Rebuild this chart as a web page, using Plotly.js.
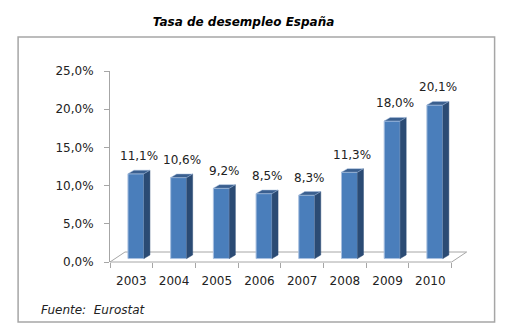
<!DOCTYPE html>
<html>
<head>
<meta charset="utf-8">
<script src="https://cdn.plot.ly/plotly-3.0.1.min.js"></script>
<style>html,body{margin:0;padding:0;background:#fff;}#chart{width:514px;height:330px;}</style>
</head>
<body>
<div id="chart"></div>
<script>
// ---- data ----
const years = ['2003', '2004', '2005', '2006', '2007', '2008', '2009', '2010'];
const rates = [11.1, 10.6, 9.2, 8.5, 8.3, 11.3, 18.0, 20.1];
const yTicks = [0, 5, 10, 15, 20, 25];
const titleText = 'Tasa de desempleo España';
const sourceText = 'Fuente:  Eurostat';

// ---- styling / geometry (pixels -> axis units) ----
const W = 514, H = 330;
const L = 110, T = 71, B = 330 - 262;
const XMIN = -0.5, XMAX = 8.0, YMAX = 25;
const catPx = 42.75;
const plotW = (XMAX - XMIN) * catPx;
const R = W - L - plotW;
const plotH = H - T - B;
const pxX = 1 / catPx, pxY = YMAX / plotH;

const barW = 16 * pxX;          // front face width
const barShift = 4.6 * pxX;     // front face centre offset
const base = 0.45;              // bars stand slightly back on the floor
const dX = 6 * pxX, dY = 3.6 * pxY;      // bar depth
const fX = 15 * pxX, fY = 10 * pxY;      // floor depth

const idx = years.map((_, i) => i);
const fontFam = '"DejaVu Sans", Verdana, sans-serif';
const pct = (v) => v.toFixed(1).replace('.', ',') + '%';

const front = {
  type: 'bar', x: idx, y: rates, base: base,
  width: barW, offset: barShift - barW / 2,
  marker: {color: '#4a7ebb', line: {color: '#a7bfdf', width: 1}},
  hoverinfo: 'skip', showlegend: false
};
// invisible carrier so that the label axis is drawn
const labelCarrier = {
  type: 'scatter', mode: 'markers', x: idx, y: rates, xaxis: 'x2', yaxis: 'y',
  marker: {opacity: 0, size: 1}, hoverinfo: 'skip', showlegend: false
};

const shapes = [];
// floor
const x0f = idx[0] - 0.5, x1f = idx[idx.length - 1] + 0.5;
const floorLine = {color: '#a6a6a6', width: 1};
shapes.push({type: 'line', xref: 'x', yref: 'paper', x0: x0f, x1: x1f, y0: 0, y1: 0, line: floorLine, layer: 'below'});
shapes.push({type: 'line', xref: 'x', yref: 'y', x0: x0f + fX, x1: x1f + fX, y0: fY, y1: fY, line: floorLine, layer: 'below'});
shapes.push({type: 'line', xref: 'x', yref: 'y', x0: x0f, x1: x0f + fX, y0: 0, y1: fY, line: floorLine, layer: 'below'});
shapes.push({type: 'line', xref: 'x', yref: 'paper', x0: x1f, x1: x1f + fX, y0: 0, y1: fY / YMAX, line: floorLine, layer: 'below'});

// 3D faces of each bar
idx.forEach((i) => {
  const v = rates[i];
  const xl = i + barShift - barW / 2, xr = i + barShift + barW / 2;
  const top = v + base;
  shapes.push({
    type: 'path', xref: 'x', yref: 'y', layer: 'above',
    path: `M${xr},${base} L${xr},${top} L${xr + dX},${top + dY} L${xr + dX},${base + dY} Z`,
    fillcolor: '#2b4b74', line: {width: 0.5, color: '#2b4b74'}
  });
  shapes.push({
    type: 'path', xref: 'x', yref: 'y', layer: 'above',
    path: `M${xl},${top} L${xr},${top} L${xr + dX},${top + dY} L${xl + dX},${top + dY} Z`,
    fillcolor: '#3a5f8f', line: {width: 0.5, color: '#a7bfdf'}
  });
});

// outer frame
shapes.push({
  type: 'rect', xref: 'paper', yref: 'paper',
  x0: (18 - L) / plotW, x1: (495 - L) / plotW,
  y0: (H - B - 322) / plotH, y1: (H - B - 37) / plotH,
  line: {color: '#a6a6a6', width: 1.5}, fillcolor: 'rgba(0,0,0,0)', layer: 'below'
});

const annotations = idx.map((i) => ({
  x: i + barShift + dX / 2, y: rates[i] + base + dY, xref: 'x', yref: 'y',
  text: pct(rates[i]),
  showarrow: false, yanchor: 'bottom', yshift: 5,
  font: {family: fontFam, size: 12, color: '#222'}
}));
annotations.push({
  xref: 'paper', yref: 'paper', x: (39 - L) / plotW, y: (H - B - 310) / plotH,
  xanchor: 'left', yanchor: 'middle', text: sourceText, showarrow: false,
  font: {family: fontFam, size: 12, color: '#222', style: 'italic'}
});

const layout = {
  width: W, height: H,
  margin: {l: L, r: R, t: T, b: B, pad: 0},
  paper_bgcolor: '#fff', plot_bgcolor: 'rgba(0,0,0,0)',
  showlegend: false,
  title: {
    text: titleText, xref: 'container', yref: 'container',
    x: 243.5 / W, y: 1 - 21.5 / H, xanchor: 'center', yanchor: 'middle',
    font: {family: fontFam, size: 12, color: '#000', weight: 'bold', style: 'italic'}
  },
  xaxis: {
    range: [XMIN, XMAX], showgrid: false, zeroline: false, showline: false,
    tickmode: 'array', tickvals: idx.map(i => i - 0.5).concat([idx.length - 0.5]),
    ticktext: idx.map(() => '').concat(['']),
    ticks: 'outside', ticklen: 5, tickcolor: '#a6a6a6', fixedrange: true
  },
  xaxis2: {
    range: [XMIN, XMAX], overlaying: 'x', anchor: 'y', side: 'bottom',
    showgrid: false, zeroline: false, showline: false, ticks: '',
    tickmode: 'array', tickvals: idx, ticktext: years, ticklabelstandoff: 10,
    tickfont: {family: fontFam, size: 12, color: '#222'}, fixedrange: true
  },
  yaxis: {
    range: [0, YMAX], showgrid: false, zeroline: false,
    showline: true, linecolor: '#a6a6a6', linewidth: 1,
    ticks: 'outside', ticklen: 5, tickcolor: '#a6a6a6',
    tickmode: 'array', tickvals: yTicks, ticktext: yTicks.map(pct),
    ticklabelstandoff: 8,
    tickfont: {family: fontFam, size: 12, color: '#222'}, fixedrange: true
  },
  shapes: shapes,
  annotations: annotations,
  bargap: 0
};

Plotly.newPlot('chart', [front, labelCarrier], layout, {displayModeBar: false, staticPlot: true});
</script>
</body>
</html>
